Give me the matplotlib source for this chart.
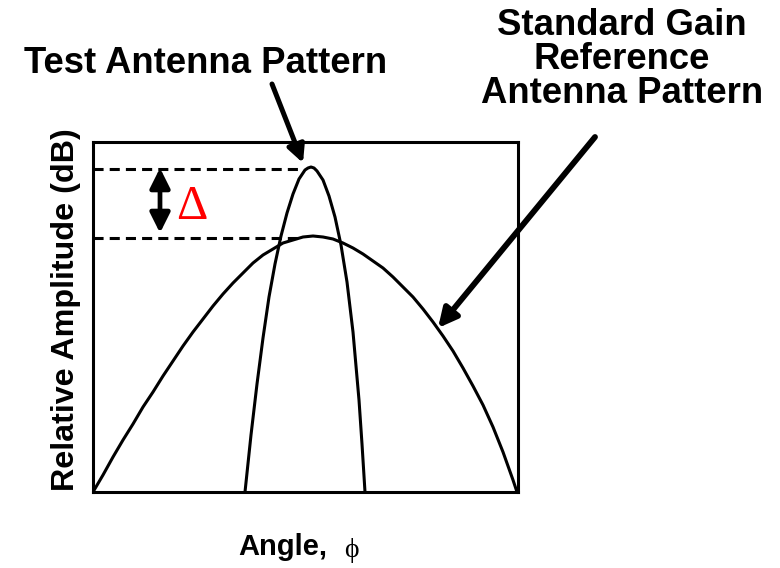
import matplotlib
matplotlib.use("Agg")
import matplotlib.pyplot as plt

# Values (arbitrary units: angle 0..425, amplitude 0..350)
ref_angle = [0, 10, 20, 30, 40, 50, 60, 70, 80, 90, 100, 110, 120, 130, 140,
             150, 160, 170, 180, 190, 200, 210, 220, 230, 240, 250, 260, 270,
             280, 290, 300, 310, 320, 330, 340, 350, 360, 370, 380, 390, 400,
             410, 420, 424]
ref_amp = [0, 17, 35, 52, 68, 85, 100, 116, 131, 146, 160, 173, 186, 198, 209,
           219, 229, 237, 243, 249, 252, 255, 256, 255, 253, 249, 244, 238,
           231, 224, 215, 205, 195, 183, 170, 156, 141, 124, 106, 87, 65,
           40, 12, 0]

test_angle = [152, 158, 164, 170, 176, 182, 188, 194, 200, 206, 212, 215, 218,
              221, 224, 230, 236, 242, 248, 254, 260, 266, 269, 272]
test_amp = [0, 57, 108, 154, 195, 228, 256, 279, 298, 313, 322, 324, 325,
            324, 321, 312, 296, 275, 247, 210, 160, 92, 48, 0]

W, H = 780, 568
fig = plt.figure(figsize=(W / 100, H / 100), dpi=100)
L, R, T, B = 93, 518, 142, 492
ax = fig.add_axes([L / W, 1 - B / H, (R - L) / W, (B - T) / H])
ax.set_xlim(0, 425)
ax.set_ylim(0, 350)
ax.set_xticks([])
ax.set_yticks([])
for s in ax.spines.values():
    s.set_linewidth(2.2)
    s.set_color("black")

lw = 2.2
ax.plot(ref_angle, ref_amp, color="black", lw=lw, solid_joinstyle="round")
ax.plot(test_angle, test_amp, color="black", lw=lw, solid_joinstyle="round")

peak_test = max(test_amp)
peak_ref = max(ref_amp)
ax.plot([0, 207], [peak_test - 2, peak_test - 2], color="black", lw=lw,
        dashes=(3.3, 2.0))
ax.plot([0, 207], [peak_ref - 2, peak_ref - 2], color="black", lw=lw,
        dashes=(3.3, 2.0))

# Delta double arrow
ax.annotate("", xy=(67, peak_ref + 3), xytext=(67, peak_test - 1),
            arrowprops=dict(arrowstyle="<|-|>", lw=3.4, color="black",
                            mutation_scale=30, shrinkA=0, shrinkB=0))
ax.text(99, 273, "\u0394", color="red", fontsize=35, family="Liberation Serif",
        ha="center", va="baseline")

fs = 26.3
sans = "Liberation Sans"
fig.text(205.5 / W, 1 - 73 / H, "Test Antenna Pattern", fontsize=fs,
         fontweight="bold", family=sans, ha="center", va="baseline")
fig.text(622 / W, 1 - 103 / H, "Standard Gain\nReference\nAntenna Pattern",
         fontsize=fs, fontweight="bold", family=sans, ha="center",
         va="baseline", multialignment="center", linespacing=0.97)

# Arrows
ax.annotate("", xy=(210, 329), xytext=(272, H - 84), textcoords="figure pixels",
            annotation_clip=False,
            arrowprops=dict(arrowstyle="-|>", lw=3.6, color="black",
                            mutation_scale=26, shrinkA=0, shrinkB=0))
ax.annotate("", xy=(345, 164), xytext=(595, H - 137), textcoords="figure pixels",
            annotation_clip=False,
            arrowprops=dict(arrowstyle="-|>", lw=4.2, color="black",
                            mutation_scale=28, shrinkA=0, shrinkB=0))

fig.text(66 / W, 1 - 310 / H, "Relative Amplitude (dB)", fontsize=23.2,
         fontweight="bold", family=sans, rotation=90, ha="center", va="center")

fig.text(327 / W, 1 - 555 / H, "Angle,", fontsize=21, fontweight="bold",
         family=sans, ha="right", va="baseline")
fig.text(344 / W, 1 - 557 / H, "\u03d5", fontsize=20, family="Liberation Serif",
         ha="left", va="baseline")

fig.savefig("out.png", dpi=100)
